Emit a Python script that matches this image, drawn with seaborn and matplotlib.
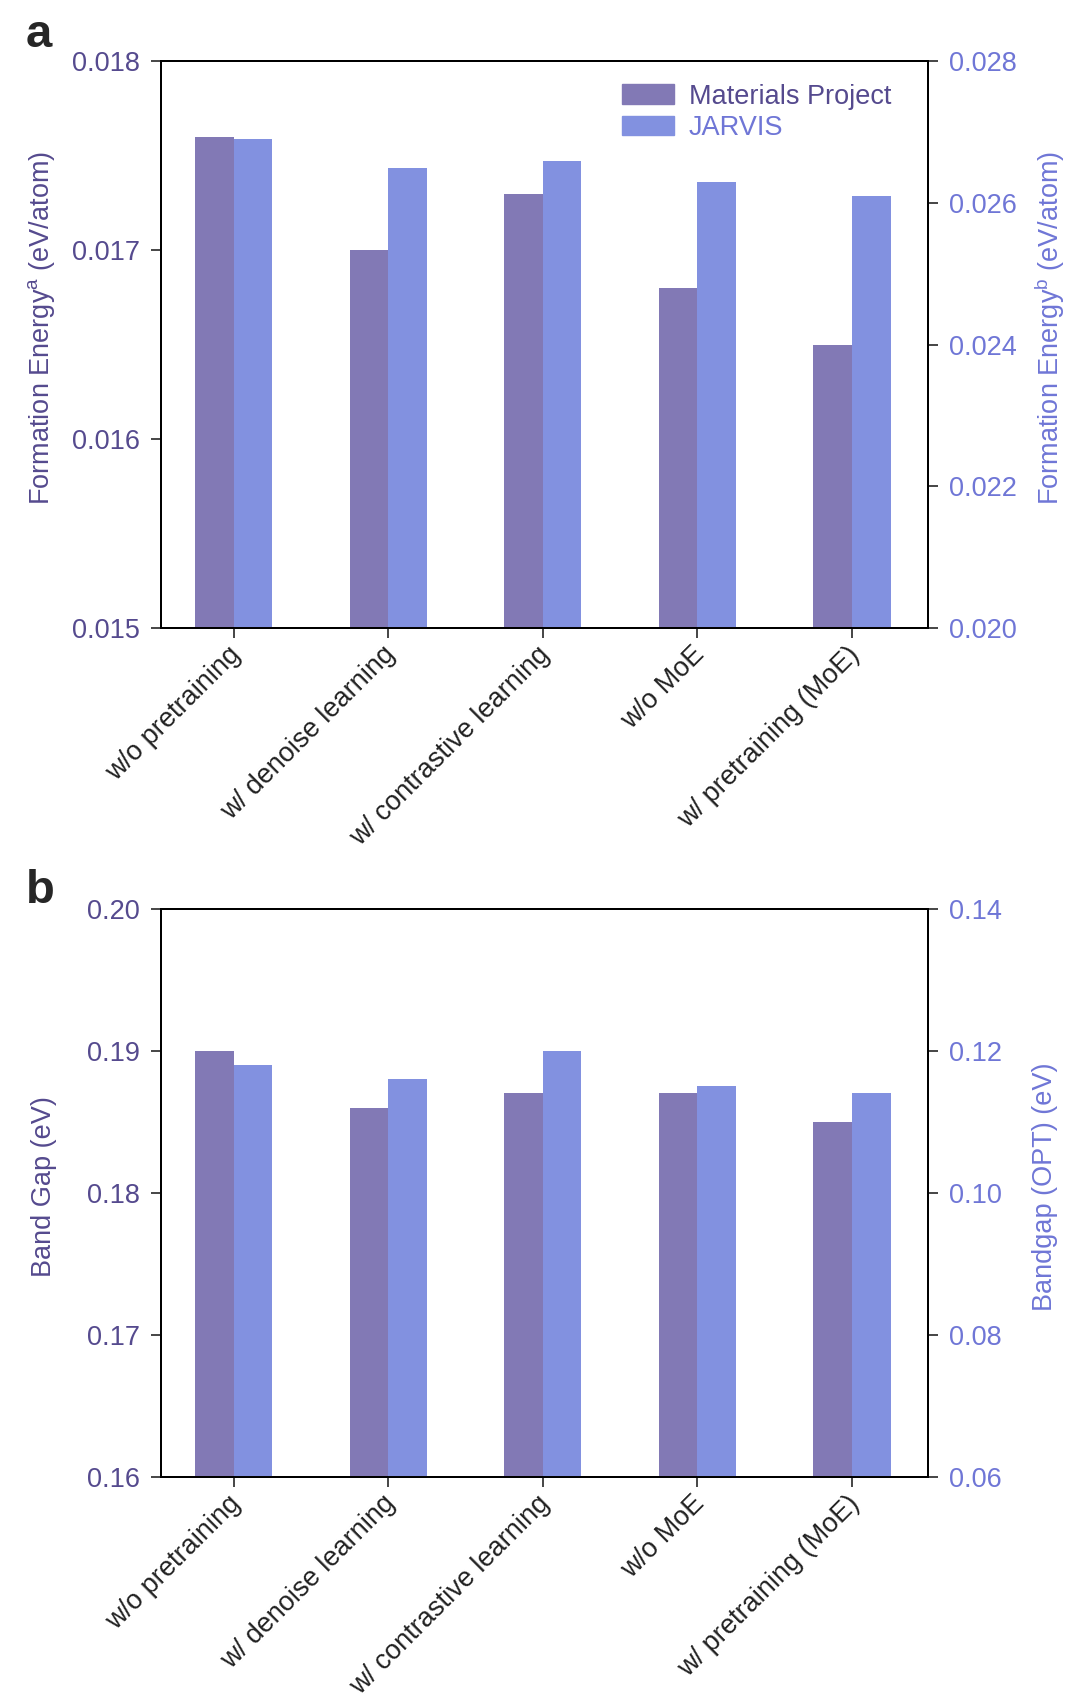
import pandas as pd
import numpy as np
import matplotlib
matplotlib.use('Agg')
import matplotlib.pyplot as plt
import matplotlib.transforms as mtransforms
import seaborn as sns
from matplotlib.patches import Patch

sns.set_style('ticks')
plt.rcParams['font.family'] = ['Liberation Sans', 'DejaVu Sans']

# Дані
categories = ['w/o pretraining', 'w/ denoise learning', 'w/ contrastive learning',
              'w/o MoE', 'w/ pretraining (MoE)']
series = ['Materials Project', 'JARVIS']

fe_mp = [0.0176, 0.0170, 0.0173, 0.0168, 0.0165]
fe_jarvis = [0.0269, 0.0265, 0.0266, 0.0263, 0.0261]
bg_mp = [0.190, 0.186, 0.187, 0.187, 0.185]
bg_jarvis = [0.118, 0.116, 0.120, 0.115, 0.114]

fe_left_ticks = [0.015, 0.016, 0.017, 0.018]
fe_right_ticks = [0.020, 0.022, 0.024, 0.026, 0.028]
bg_left_ticks = [0.16, 0.17, 0.18, 0.19, 0.20]
bg_right_ticks = [0.06, 0.08, 0.10, 0.12, 0.14]

c_mp = '#8279b5'
c_jv = '#8291e0'
t_mp = '#554a8e'
t_jv = '#6f76d6'
palette = {series[0]: c_mp, series[1]: c_jv}
fs = 19.5

fig = plt.figure(figsize=(10.8, 17.07), dpi=100)


def panel(rect, mp, jv, lt, rt, lfmt, rfmt, llabel, rlabel, label_y,
          letter, letter_y, legend):
    ax = fig.add_axes(rect)
    df_mp = pd.DataFrame({'cat': categories, 'val': mp, 'series': series[0]})
    df_jv = pd.DataFrame({'cat': categories, 'val': jv, 'series': series[1]})
    sns.barplot(data=df_mp, x='cat', y='val', hue='series', hue_order=series,
                order=categories, palette=palette, width=0.5, dodge=True,
                saturation=1, legend=False, linewidth=0, ax=ax)
    ax2 = ax.twinx()
    sns.barplot(data=df_jv, x='cat', y='val', hue='series', hue_order=series,
                order=categories, palette=palette, width=0.5, dodge=True,
                saturation=1, legend=False, linewidth=0, ax=ax2)
    ax.set_xlim(-0.47, 4.49)
    ax.set_ylim(lt[0], lt[-1])
    ax2.set_ylim(rt[0], rt[-1])
    ax.set_yticks(lt)
    ax.set_yticklabels([lfmt.format(v) for v in lt])
    ax2.set_yticks(rt)
    ax2.set_yticklabels([rfmt.format(v) for v in rt])
    ax.set_xlabel('')
    ax.set_ylabel(llabel, fontsize=fs, color=t_mp)
    ax2.set_ylabel(rlabel, fontsize=fs, color=t_jv)
    ax.yaxis.set_label_coords(-0.135, label_y)
    ax2.yaxis.set_label_coords(1.136, label_y)
    ax.tick_params(axis='y', labelsize=fs, labelcolor=t_mp, direction='out',
                   length=7, width=1.2, pad=8)
    ax2.tick_params(axis='y', labelsize=fs, labelcolor=t_jv, direction='out',
                    length=7, width=1.2, pad=8)
    ax.tick_params(axis='x', labelsize=fs, labelcolor='#222222', direction='out',
                   length=7, width=1.2, pad=4)
    ax.set_xticks(range(len(categories)))
    ax.set_xticklabels(categories, rotation=45, ha='right', rotation_mode='anchor')
    shift = mtransforms.ScaledTranslation(-6 / 100, 2 / 100, fig.dpi_scale_trans)
    for lab in ax.get_xticklabels():
        lab.set_transform(lab.get_transform() + shift)
    for a in (ax, ax2):
        for s in a.spines.values():
            s.set_visible(True)
            s.set_linewidth(1.4)
            s.set_color('black')
    fig.text(0.024, letter_y, letter, fontsize=34, fontweight='bold',
             va='baseline', ha='left')
    if legend:
        handles = [Patch(color=c_mp), Patch(color=c_jv)]
        leg = ax2.legend(handles, series, loc='upper right', frameon=False,
                         fontsize=fs, handlelength=1.9, handleheight=0.75,
                         handletextpad=0.55, labelspacing=0.2,
                         borderaxespad=0.5, bbox_to_anchor=(0.984, 1.004))
        leg.get_texts()[0].set_color(t_mp)
        leg.get_texts()[1].set_color(t_jv)
    return ax, ax2


panel([0.149, 0.632, 0.710, 0.332], fe_mp, fe_jarvis,
      fe_left_ticks, fe_right_ticks, '{:.3f}', '{:.3f}',
      'Formation Energy$^{\\mathregular{a}}$ (eV/atom)',
      'Formation Energy$^{\\mathregular{b}}$ (eV/atom)', 0.529, 'a', 0.9726, True)
panel([0.149, 0.1347, 0.710, 0.333], bg_mp, bg_jarvis,
      bg_left_ticks, bg_right_ticks, '{:.2f}', '{:.2f}',
      'Band Gap (eV)', 'Bandgap (OPT) (eV)', 0.511, 'b', 0.4712, False)

plt.savefig('out.png', dpi=100)
